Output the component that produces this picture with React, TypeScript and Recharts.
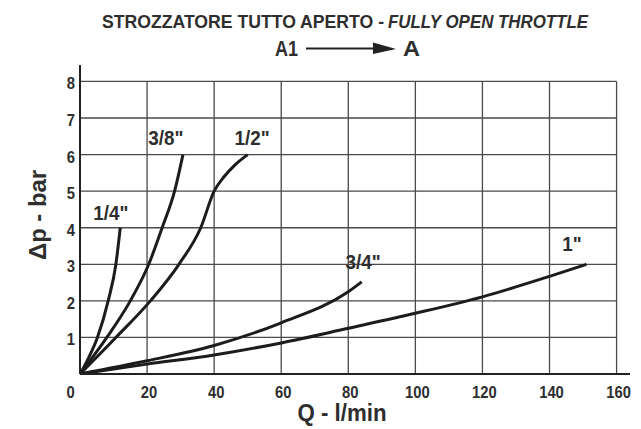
import React from "react";
import { LineChart, Line, XAxis, YAxis, ReferenceLine, ReferenceDot } from "recharts";

// Flow Q (l/min) and pressure drop Δp (bar) per size
const q14 = [0, 2.6, 5.2, 8.4, 10.7, 12];
const p14 = [0, 0.45, 1, 2, 3, 4];
const q38 = [0, 8, 15, 20.5, 24.5, 28.2, 30.7];
const p38 = [0, 1, 2, 3, 4, 5, 6];
const q12 = [0, 10.7, 21, 29.5, 36, 40, 43, 46, 50];
const p12 = [0, 1, 2, 3, 4, 5, 5.4, 5.7, 6];
const q34 = [0, 20, 40, 60, 80, 84];
const p34 = [0, 0.36, 0.78, 1.4, 2.25, 2.52];
const q1 = [0, 20, 40, 60, 80, 100, 120, 140, 151];
const p1 = [0, 0.27, 0.52, 0.85, 1.25, 1.66, 2.11, 2.67, 3.0];

const seriesNames = ['1/4"', '3/8"', '1/2"', '3/4"', '1"'];
const labelQ = [9.2, 25.6, 51.3, 84.4, 146.7];
const labelP = [4.43, 6.48, 6.48, 3.09, 3.56];

const xTicks = [0, 20, 40, 60, 80, 100, 120, 140, 160];
const yTicks = [1, 2, 3, 4, 5, 6, 7, 8];

const toPts = (q: number[], p: number[]) => q.map((v, i) => ({ x: v, y: p[i] }));
const series = [toPts(q14, p14), toPts(q38, p38), toPts(q12, p12), toPts(q34, p34), toPts(q1, p1)];

const FONT = "'Liberation Sans', Arial, sans-serif";
const TXT = "#2e2e2e";
const GRID = "#4a4a4a";
const CURVE = "#1c1c1c";

const XTick = (props: any) => {
  const { x, y, payload } = props;
  const dx = payload.value === 0 ? -9.5 : 2;
  return (
    <g transform={`translate(${x + dx},${y + 24})`}>
      <text transform="scale(0.87,1)" textAnchor="middle" fontFamily={FONT} fontWeight="bold" fontSize={17} fill={TXT}>
        {payload.value}
      </text>
    </g>
  );
};

const YTick = (props: any) => {
  const { x, y, payload } = props;
  return (
    <g transform={`translate(${x - 5},${y + 8})`}>
      <text transform="scale(0.87,1)" textAnchor="end" fontFamily={FONT} fontWeight="bold" fontSize={17} fill={TXT}>
        {payload.value}
      </text>
    </g>
  );
};

const makeLabel = (name: string) => (props: any) => (
  <g transform={`translate(${props.cx},${props.cy + 7.5})`}>
    <text transform="scale(0.9,1)" textAnchor="middle" fontFamily={FONT} fontWeight="bold" fontSize={21} fill={TXT}>
      {name}
    </text>
  </g>
);

export default function App() {
  return (
    <div style={{ position: "absolute", left: 0, top: 0, width: 641, height: 429, background: "#fff" }}>
      <LineChart width={641} height={429} margin={{ top: 65, right: 11, bottom: 0, left: 0 }}>
        <XAxis
          type="number"
          dataKey="x"
          domain={[0, 164]}
          allowDataOverflow
          ticks={xTicks}
          tick={<XTick />}
          tickLine={false}
          tickSize={0}
          tickMargin={0}
          height={55}
          axisLine={{ stroke: "#222", strokeWidth: 2 }}
        />
        <YAxis
          type="number"
          dataKey="y"
          domain={[0, 8.45]}
          allowDataOverflow
          ticks={yTicks}
          tick={<YTick />}
          tickLine={false}
          tickSize={0}
          tickMargin={0}
          width={80}
          axisLine={{ stroke: "#222", strokeWidth: 2 }}
        />
        {yTicks.map((v) => (
          <ReferenceLine key={"h" + v} segment={[{ x: 0, y: v }, { x: 160, y: v }]} stroke={GRID} strokeWidth={1.3} />
        ))}
        {xTicks.filter((v) => v > 0).map((v) => (
          <ReferenceLine key={"v" + v} segment={[{ x: v, y: 0 }, { x: v, y: 8 }]} stroke={GRID} strokeWidth={1.3} />
        ))}
        {series.map((d, i) => (
          <Line
            key={seriesNames[i]}
            data={d}
            dataKey="y"
            type="monotone"
            stroke={CURVE}
            strokeWidth={3}
            dot={false}
            activeDot={false}
            isAnimationActive={false}
          />
        ))}
        {seriesNames.map((n, i) => (
          <ReferenceDot key={"l" + i} x={labelQ[i]} y={labelP[i]} r={0} shape={makeLabel(n)} />
        ))}
      </LineChart>
      <svg width={641} height={429} style={{ position: "absolute", left: 0, top: 0, pointerEvents: "none" }}>
        <text x={102} y={27.5} fontFamily={FONT} fontWeight="bold" fontSize={19} fill={TXT} textLength={282} lengthAdjust="spacingAndGlyphs">
          STROZZATORE TUTTO APERTO -
        </text>
        <text x={388} y={27.5} fontFamily={FONT} fontWeight="bold" fontStyle="italic" fontSize={19} fill={TXT} textLength={200} lengthAdjust="spacingAndGlyphs">
          FULLY OPEN THROTTLE
        </text>
        <text x={275} y={56} fontFamily={FONT} fontWeight="bold" fontSize={21.5} fill={TXT} textLength={23} lengthAdjust="spacingAndGlyphs">
          A1
        </text>
        <line x1={306} y1={48.5} x2={376} y2={48.5} stroke="#222" strokeWidth={2} />
        <polygon points="373,42.5 396,49 373,54" fill="#222" />
        <text x={403} y={56} fontFamily={FONT} fontWeight="bold" fontSize={21.5} fill={TXT} textLength={17} lengthAdjust="spacingAndGlyphs">
          A
        </text>
        <text
          transform="translate(46,215) rotate(-90)"
          textAnchor="middle"
          fontFamily={FONT}
          fontWeight="bold"
          fontSize={24}
          fill={TXT}
          textLength={90}
          lengthAdjust="spacingAndGlyphs"
        >
          Δp - bar
        </text>
        <text x={342} y={421} textAnchor="middle" fontFamily={FONT} fontWeight="bold" fontSize={23} fill={TXT} textLength={89} lengthAdjust="spacingAndGlyphs">
          Q - l/min
        </text>
      </svg>
    </div>
  );
}
